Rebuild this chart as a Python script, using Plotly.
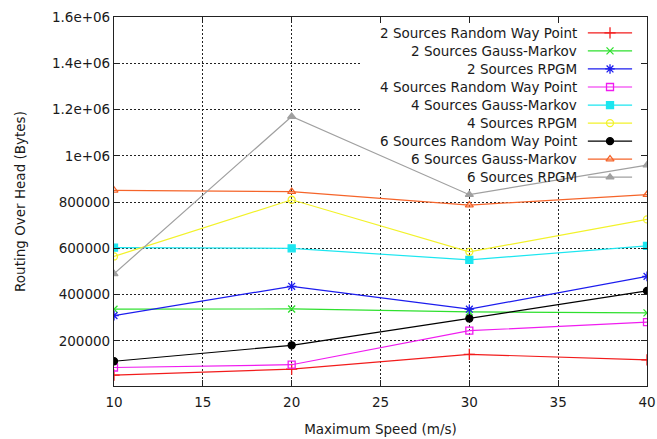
import plotly.graph_objects as go

# Maximum node speed (m/s)
speeds = [10, 20, 30, 40]

# Routing overhead in bytes per scenario
two_rwp = [52000, 78000, 142000, 118000]
two_gm = [337000, 338000, 325000, 321000]
two_rpgm = [309000, 436000, 337000, 479000]
four_rwp = [85000, 97000, 244000, 281000]
four_gm = [603000, 600000, 550000, 611000]
four_rpgm = [565000, 810000, 585000, 725000]
six_rwp = [112000, 181000, 297000, 416000]
six_gm = [851000, 845000, 787000, 832000]
six_rpgm = [490000, 1170000, 832000, 960000]

series_names = [
    "2 Sources Random Way Point",
    "2 Sources Gauss-Markov",
    "2 Sources RPGM",
    "4 Sources Random Way Point",
    "4 Sources Gauss-Markov",
    "4 Sources RPGM",
    "6 Sources Random Way Point",
    "6 Sources Gauss-Markov",
    "6 Sources RPGM",
]
series_values = [two_rwp, two_gm, two_rpgm, four_rwp, four_gm, four_rpgm,
                 six_rwp, six_gm, six_rpgm]

y_tick_vals = [200000, 400000, 600000, 800000, 1000000, 1200000, 1400000, 1600000]
y_tick_text = ["200000", "400000", "600000", "800000", "1e+06", "1.2e+06", "1.4e+06", "1.6e+06"]
x_tick_vals = [10, 15, 20, 25, 30, 35, 40]

colors = ["#f21c1c", "#2ee02e", "#1c1cee", "#f01cf0", "#1ce6f0",
          "#f2f22a", "#000000", "#f5642a", "#a0a0a0"]
symbols = ["cross-thin", "x-thin", "asterisk", "square-open", "square",
           "circle-open", "circle", "triangle-up-open", "triangle-up"]
sizes = [8, 7, 8, 7, 7, 7, 7, 7, 7]

FONT = "DejaVu Sans"
TEXT = "#1a1a1a"

fig = go.Figure()

for name, vals, c, sym, sz in zip(series_names, series_values, colors, symbols, sizes):
    fig.add_trace(go.Scatter(
        x=speeds, y=vals, mode="lines+markers", name=name,
        line=dict(color=c, width=1.2),
        marker=dict(symbol=sym, size=sz, color=c, line=dict(color=c, width=1.3)),
        showlegend=False,
    ))

# Key: right-aligned labels with sample line and marker to the right
row0 = 0.957
row_step = 0.0489
text_x = 0.872
line_x0, line_mid, line_x1 = 0.889, 0.9306, 0.972
annotations = []
for i, (name, c, sym, sz) in enumerate(zip(series_names, colors, symbols, sizes)):
    yp = row0 - i * row_step
    annotations.append(dict(
        x=text_x, y=yp, xref="paper", yref="paper", text=name,
        showarrow=False, xanchor="right", yanchor="middle",
        font=dict(family=FONT, size=13.5, color=TEXT),
    ))
    fig.add_trace(go.Scatter(
        x=[line_x0, line_x1], y=[yp, yp], mode="lines",
        line=dict(color=c, width=1.2), xaxis="x2", yaxis="y2",
        showlegend=False, hoverinfo="skip",
    ))
    fig.add_trace(go.Scatter(
        x=[line_mid], y=[yp], mode="markers",
        marker=dict(symbol=sym, size=sz, color=c, line=dict(color=c, width=1.3)),
        xaxis="x2", yaxis="y2", showlegend=False, hoverinfo="skip",
    ))

fig.update_layout(
    width=657, height=439,
    margin=dict(l=114, r=10, t=17, b=53, autoexpand=False),
    paper_bgcolor="white", plot_bgcolor="white",
    font=dict(family=FONT, size=13.5, color=TEXT),
    annotations=annotations,
    # white key background hides the grid behind the key
    shapes=[dict(
        type="rect", xref="x", yref="y",
        x0=23.85, x1=40, y0=860000, y1=1600000,
        fillcolor="white", line=dict(width=0), layer="between",
    )],
    xaxis=dict(
        range=[10, 40], tickvals=x_tick_vals,
        showgrid=True, gridcolor="#222", griddash="2px,2px", gridwidth=1,
        showline=True, linecolor="#222", linewidth=1.2, mirror="ticks",
        ticks="inside", ticklen=6, tickcolor="#222",
        zeroline=False, ticklabelstandoff=4, automargin=False,
        title=dict(text="Maximum Speed (m/s)", standoff=15,
                   font=dict(family=FONT, size=13.5, color=TEXT)),
        tickfont=dict(family=FONT, size=13.5, color=TEXT),
    ),
    yaxis=dict(
        range=[5000, 1600000], tickvals=y_tick_vals, ticktext=y_tick_text,
        showgrid=True, gridcolor="#222", griddash="2px,2px", gridwidth=1,
        showline=True, linecolor="#222", linewidth=1.2, mirror="ticks",
        ticks="inside", ticklen=6, tickcolor="#222",
        zeroline=False, automargin=False,
        title=dict(text="Routing Over Head (Bytes)", standoff=23,
                   font=dict(family=FONT, size=13.5, color=TEXT)),
        tickfont=dict(family=FONT, size=13.5, color=TEXT),
    ),
    xaxis2=dict(range=[0, 1], overlaying="x", visible=False, fixedrange=True),
    yaxis2=dict(range=[0, 1], overlaying="y", visible=False, fixedrange=True),
)

fig.write_html("out.html")
